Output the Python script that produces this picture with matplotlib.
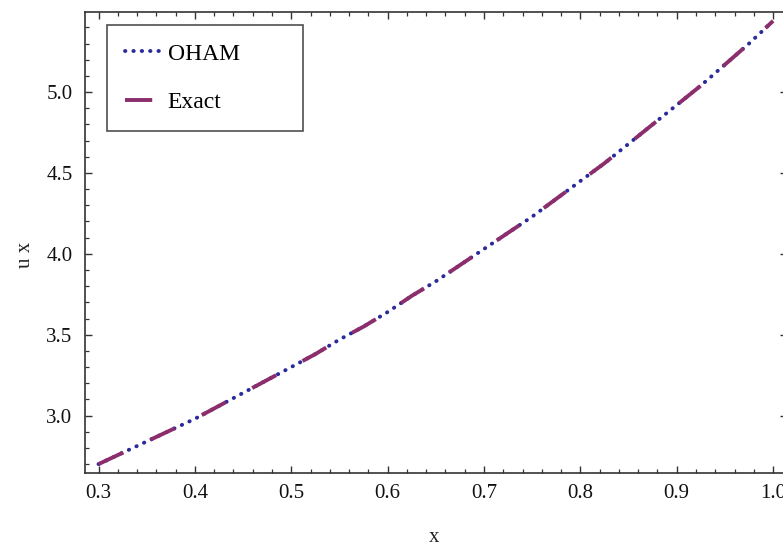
import matplotlib
matplotlib.use("Agg")
import matplotlib.pyplot as plt
from matplotlib.ticker import MultipleLocator

# values
xVals = [0.300, 0.325, 0.350, 0.375, 0.400, 0.425, 0.450, 0.475, 0.500, 0.525,
         0.550, 0.575, 0.600, 0.625, 0.650, 0.675, 0.700, 0.725, 0.750, 0.775,
         0.800, 0.825, 0.850, 0.875, 0.900, 0.925, 0.950, 0.975, 1.000]
ohamVals = [2.70, 2.77, 2.84, 2.91, 2.98, 3.06, 3.14, 3.22, 3.30, 3.38,
            3.47, 3.55, 3.64, 3.74, 3.83, 3.93, 4.03, 4.13, 4.23, 4.34,
            4.45, 4.56, 4.68, 4.80, 4.92, 5.04, 5.17, 5.30, 5.44]
exactVals = [2.70, 2.77, 2.84, 2.91, 2.98, 3.06, 3.14, 3.22, 3.30, 3.38,
             3.47, 3.55, 3.64, 3.74, 3.83, 3.93, 4.03, 4.13, 4.23, 4.34,
             4.45, 4.56, 4.68, 4.80, 4.92, 5.04, 5.17, 5.30, 5.44]
seriesNames = ["OHAM", "Exact"]
xTicks = [0.3, 0.4, 0.5, 0.6, 0.7, 0.8, 0.9, 1.0]
yTicks = [3.0, 3.5, 4.0, 4.5, 5.0]

plt.rcParams['font.family'] = ['Liberation Serif', 'DejaVu Serif']

fig = plt.figure(figsize=(7.83, 5.46), dpi=100)
ax = fig.add_axes([0.1086, 0.1337, 0.896, 0.8443])

ax.plot(xVals, ohamVals, color="#2a2a9c", lw=2.8, linestyle=(0, (0.1, 2.05)),
        dash_capstyle="round", label=seriesNames[0], zorder=3)
ax.plot(xVals, exactVals, color="#8c2d6c", lw=2.8, linestyle=(0, (7.0, 7.7)),
        dash_capstyle="butt", label=seriesNames[1], zorder=4)

ax.set_xlim(0.286, 1.014)
ax.set_ylim(2.645, 5.495)
ax.set_xticks(xTicks)
ax.set_xticklabels([f"{t:.1f}" for t in xTicks])
ax.set_yticks(yTicks)
ax.set_yticklabels([f"{t:.1f}" for t in yTicks])
ax.xaxis.set_minor_locator(MultipleLocator(0.02))
ax.yaxis.set_minor_locator(MultipleLocator(0.1))

ax.tick_params(which="both", direction="in", top=True, right=True,
               color="#333333", labelsize=15, labelcolor="#111111")
ax.tick_params(axis="y", which="both", pad=9)
ax.tick_params(axis="x", which="both", pad=8)
ax.tick_params(which="major", length=5, width=1.0)
ax.tick_params(which="minor", length=3, width=0.9)
for sp in ax.spines.values():
    sp.set_color("#333333")
    sp.set_linewidth(1.2)

ax.set_xlabel("x", fontsize=15, color="#222222")
ax.set_ylabel("u x", fontsize=15, color="#222222")
ax.xaxis.set_label_coords(0.497, -0.12)
ax.yaxis.set_label_coords(-0.072, 0.473)

# legend box spans x 107..303 px, top at 25 px
leg = ax.legend(loc="upper left", bbox_to_anchor=(0.0314, 0.5, 0.2794, 0.472),
                mode="expand", borderaxespad=0,
                fontsize=17, frameon=True, fancybox=False, handlelength=1.6,
                handletextpad=0.2, borderpad=0.77, labelspacing=1.15)
leg.get_frame().set_edgecolor("#222222")
leg.get_frame().set_linewidth(1.2)

fig.savefig("out.png", dpi=100)
